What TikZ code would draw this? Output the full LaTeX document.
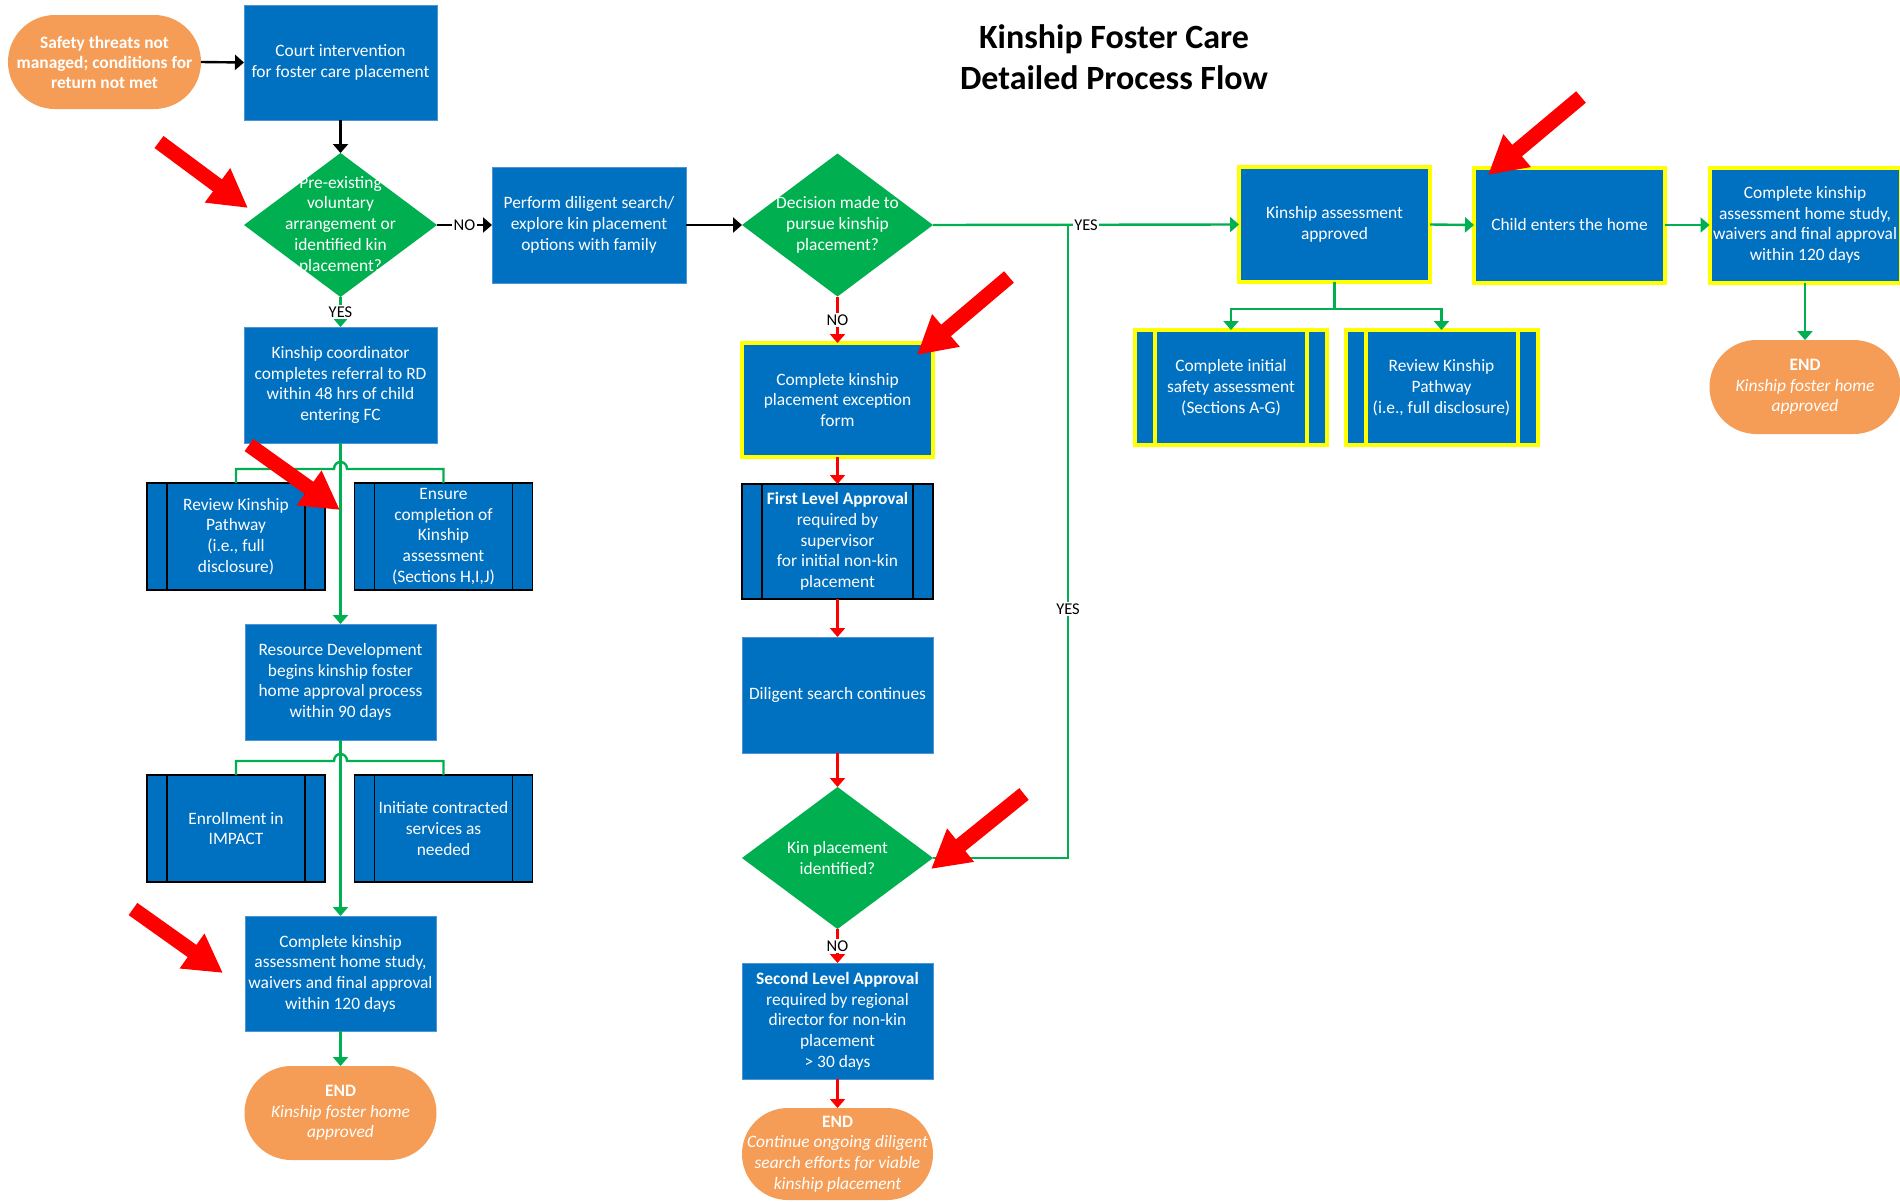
\documentclass[tikz,border=0pt]{standalone}
\usepackage{fontspec}
\setmainfont{Carlito}
\usetikzlibrary{arrows.meta,shapes.geometric}
\definecolor{boxblue}{HTML}{0070C0}
\definecolor{boxedge}{HTML}{4F95D6}
\definecolor{dgreen}{HTML}{00B050}
\definecolor{orng}{HTML}{F59D56}
\definecolor{redc}{HTML}{FF0000}
\definecolor{yel}{HTML}{FFFF00}
\tikzset{
  box/.style={rectangle, fill=boxblue, draw=boxedge, line width=1pt, text=white, align=center,
    minimum width=191pt, minimum height=115pt, inner sep=2pt, outer sep=0pt},
  ybox/.style={box, draw=yel, line width=4pt},
  pbox/.style={box, draw=black, line width=1.3pt, minimum width=178pt, minimum height=107pt,
    path picture={\draw[black, line width=1.3pt]
      ([xshift=20pt]path picture bounding box.north west) -- ([xshift=20pt]path picture bounding box.south west)
      ([xshift=-20pt]path picture bounding box.north east) -- ([xshift=-20pt]path picture bounding box.south east);}},
  ypbox/.style={ybox, minimum width=192pt,
    path picture={\draw[yel, line width=4pt]
      ([xshift=20pt]path picture bounding box.north west) -- ([xshift=20pt]path picture bounding box.south west)
      ([xshift=-20pt]path picture bounding box.north east) -- ([xshift=-20pt]path picture bounding box.south east);}},
  dia/.style={diamond, fill=dgreen, minimum width=191pt, minimum height=143pt, inner sep=0pt, outer sep=0pt},
  diatext/.style={text=white, align=center, inner sep=0pt},
  term/.style={rectangle, rounded corners=46.9pt, fill=orng, text=white, align=center,
    minimum width=193pt, minimum height=94pt, inner sep=0pt, outer sep=0pt},
  conn/.style={line width=2.4pt, -{Triangle[length=9pt,width=15pt]}},
  bk/.style={conn, draw=black},
  gr/.style={conn, draw=dgreen},
  rd/.style={conn, draw=redc},
  gl/.style={draw=dgreen, line width=2.4pt},
  lbl/.style={fill=white, text=black, inner sep=1.5pt, font=\fontsize{16.5}{19}\selectfont},
  bigarrow/.style={draw=redc, line width=15pt, -{Triangle[length=38pt,width=40pt]}}
}
\begin{document}
\begin{tikzpicture}[x=1pt,y=-1pt,font=\fontsize{17.4}{20.7}\selectfont]
\useasboundingbox (0,0) rectangle (1900,1202);
\fill[white] (0,0) rectangle (1900,1202);

% title
\node[font=\fontsize{34}{41}\selectfont\bfseries, align=center, text=black] (title) at (1114,57) {Kinship Foster Care\\Detailed Process Flow};

% left column
\node[term, font=\fontsize{17.4}{20}\selectfont\bfseries] (safety) at (104.5,62) {Safety threats not\\managed; conditions for\\return not met};
\node[box, minimum width=193pt] (court) at (340.5,62.5) {Court intervention\\for foster care placement};
\node[dia, minimum width=193pt, minimum height=144pt] (d1) at (340.5,225) {};
\node[diatext] (d1t) at (340.5,225) {Pre-existing\\voluntary\\arrangement or\\identified kin\\placement?};
\node[box, minimum width=193pt, minimum height=116pt] (kc) at (340.5,385) {Kinship coordinator\\completes referral to RD\\within 48 hrs of child\\entering FC};
\node[pbox] (pl1) at (236,536.5) {Review Kinship\\Pathway\\(i.e., full\\disclosure)};
\node[pbox] (pr1) at (443.5,536.5) {Ensure\\completion of\\Kinship\\assessment\\(Sections H,I,J)};
\node[box, minimum height=116pt] (rd) at (340.5,682) {Resource Development\\begins kinship foster\\home approval process\\within 90 days};
\node[pbox] (pl2) at (236,828.5) {Enrollment in\\IMPACT};
\node[pbox] (pr2) at (443.5,828.5) {Initiate contracted\\services as\\needed};
\node[box] (ck) at (340.5,973.5) {Complete kinship\\assessment home study,\\waivers and final approval\\within 120 days};
\node[term, minimum width=192pt] (end1) at (340.5,1113) {\textbf{END}\\\textit{Kinship foster home}\\\textit{approved}};

% middle column
\node[box, minimum width=194pt, minimum height=116pt] (perf) at (589,225) {Perform diligent search/\\explore kin placement\\options with family};
\node[dia] (d2) at (837.5,225) {};
\node[diatext] (d2t) at (837.5,225) {Decision made to\\pursue kinship\\placement?};
\node[ybox, minimum height=114pt] (exc) at (837.5,400) {Complete kinship\\placement exception\\form};
\node[pbox, minimum width=191pt, minimum height=115pt] (fl) at (837.5,541.5) {\textbf{First Level Approval}\\required by\\supervisor\\for initial non-kin\\placement};
\node[box, minimum height=116pt] (ds) at (837.5,695) {Diligent search continues};
\node[dia, minimum height=142pt] (d3) at (837.5,858) {};
\node[diatext] (d3t) at (837.5,858) {Kin placement\\identified?};
\node[box, minimum height=116pt] (sl) at (837.5,1021) {\textbf{Second Level Approval}\\required by regional\\director for non-kin\\placement\\> 30 days};
\node[term, minimum width=191pt, minimum height=92pt, rounded corners=45.9pt] (end2) at (837.5,1154) {\textbf{END}\\\textit{Continue ongoing diligent}\\\textit{search efforts for viable}\\\textit{kinship placement}};

% right part
\node[ybox] (ka) at (1334.5,224.5) {Kinship assessment\\approved};
\node[ypbox] (yl) at (1231,387.5) {Complete initial\\safety assessment\\(Sections A-G)};
\node[ypbox] (yr) at (1441.5,387.5) {Review Kinship\\Pathway\\(i.e., full disclosure)};
\node[ybox] (child) at (1569.5,225) {Child enters the home};
\node[ybox] (ck2) at (1805,225) {Complete kinship\\assessment home study,\\waivers and final approval\\within 120 days};
\node[term, minimum width=191pt] (end3) at (1805,387) {\textbf{END}\\\textit{Kinship foster home}\\\textit{approved}};

% coordinates
\coordinate (h1a) at (334,469);
\coordinate (h1b) at (347,469);
\coordinate (h2a) at (334,761);
\coordinate (h2b) at (347,761);
\coordinate (kab) at (1334.5,309);
\coordinate (c1) at (1068,858);
\coordinate (jn) at (1068,225);

% connectors left
\draw[bk] (safety.east) -- (court.west);
\draw[bk] (court.south) -- (d1.north);
\draw[bk] (d1.east) -- node[lbl] (no1) {NO} (perf.west);
\draw[gr] (d1.south) -- node[lbl] (yes1) {YES} (kc.north);
\draw[gr] (kc.south) -- (rd.north);
\draw[gl] (pl1.north) |- (h1a) .. controls (334,459.7) and (347,459.7) .. (h1b) -| (pr1.north);
\draw[gr] (rd.south) -- (ck.north);
\draw[gl] (pl2.north) |- (h2a) .. controls (334,751.7) and (347,751.7) .. (h2b) -| (pr2.north);
\draw[gr] (ck.south) -- (end1.north);

% connectors middle
\draw[bk] (perf.east) -- (d2.west);
\draw[rd] (d2.south) -- node[lbl] (no2) {NO} (exc.north);
\draw[rd] (exc.south) -- (fl.north);
\draw[rd] (fl.south) -- (ds.north);
\draw[rd] (ds.south) -- (d3.north);
\draw[rd] (d3.south) -- node[lbl] (no3) {NO} (sl.north);
\draw[rd] (sl.south) -- (end2.north);

% connectors right
\draw[gr] (d2.east) -- node[lbl] (yes2) {YES} (ka.west);
\draw[gl] (d3.east) -- (c1) -- node[lbl, pos=0.393] (yes3) {YES} (jn);
\draw[gr] (ka.south) -- (kab) -| (yl.north);
\draw[gr] (kab) -| (yr.north);
\draw[gr] (ka.east) -- (child.west);
\draw[gr] (child.east) -- (ck2.west);
\draw[gr] (ck2.south) -- (end3.north);

% red pointer arrows
\coordinate (r1a) at (159,142); \coordinate (r1b) at (248,208);
\coordinate (r2a) at (249,445); \coordinate (r2b) at (340,510);
\coordinate (r3a) at (1009,277); \coordinate (r3b) at (917,355);
\coordinate (r4a) at (1581,97); \coordinate (r4b) at (1488,175);
\coordinate (r5a) at (1024,794); \coordinate (r5b) at (931,869);
\coordinate (r6a) at (133,909); \coordinate (r6b) at (223,973);
\foreach \a/\b in {r1a/r1b, r2a/r2b, r3a/r3b, r4a/r4b, r5a/r5b, r6a/r6b}
  \draw[bigarrow] (\a) -- (\b);
\end{tikzpicture}
\end{document}
